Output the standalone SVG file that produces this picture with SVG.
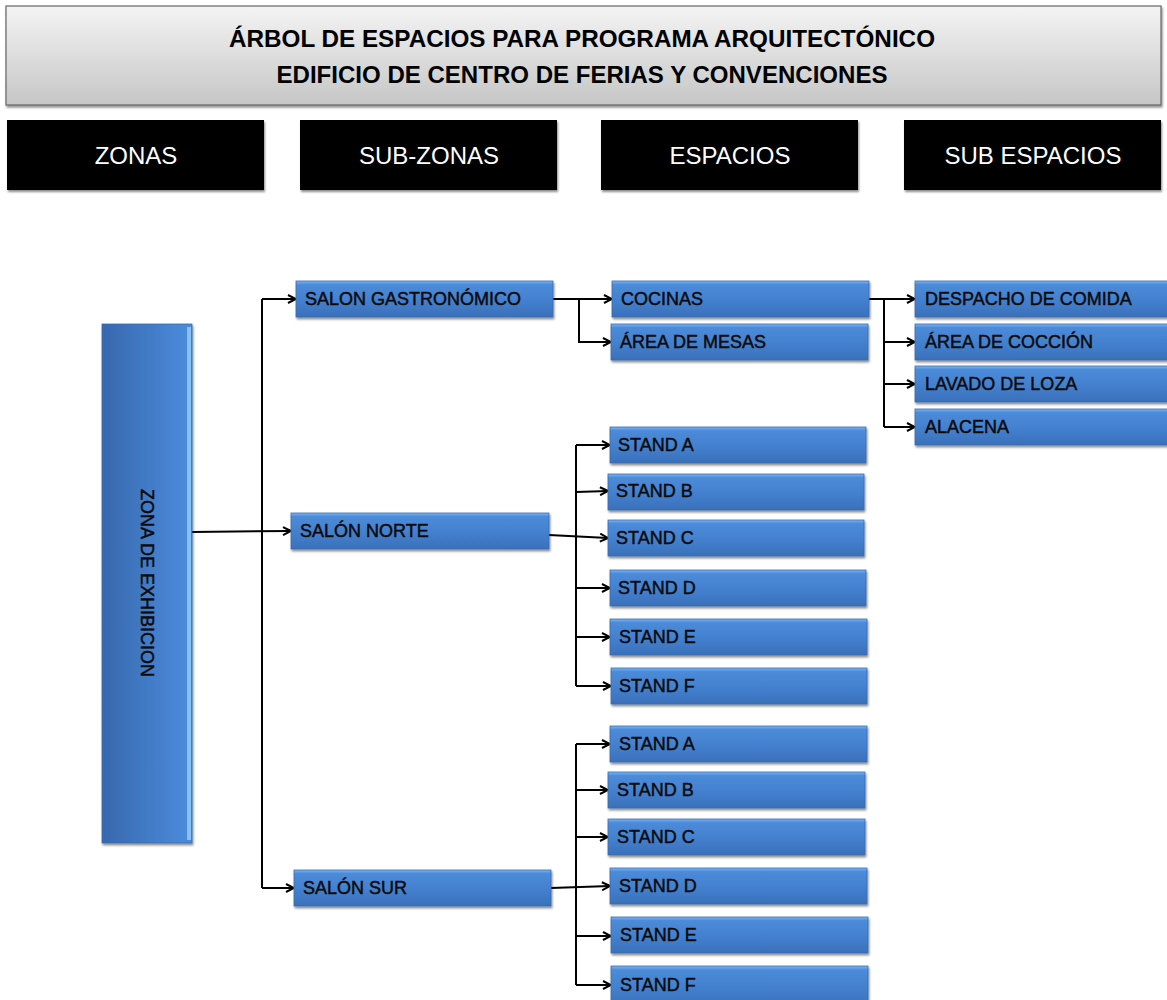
<svg xmlns="http://www.w3.org/2000/svg" width="1167" height="1000" viewBox="0 0 1167 1000">
<style>
.box{fill:url(#gBlue);stroke:#3a6cb0;stroke-width:0.8;filter:url(#sh)}
.hl{fill:#86c0f6}
.lbl{font-family:"Liberation Sans",Arial,sans-serif;font-size:18px;fill:#0a0a0a;stroke:#0a0a0a;stroke-width:0.45;dominant-baseline:central}
.hdr{fill:#000;filter:url(#sh)}
.hdrt{font-family:"Liberation Sans",Arial,sans-serif;font-size:24px;fill:#fff;text-anchor:middle;dominant-baseline:central}
.ttl{font-family:"Liberation Sans",Arial,sans-serif;font-size:23px;font-weight:bold;fill:#000;text-anchor:middle;dominant-baseline:central}
.c{fill:none;stroke:#000;stroke-width:2}
.a{marker-end:url(#arr)}
</style>
<defs>
<linearGradient id="gBlue" x1="0" y1="0" x2="0" y2="1">
<stop offset="0" stop-color="#7ab6f2"/>
<stop offset="0.1" stop-color="#4c8bd9"/>
<stop offset="0.55" stop-color="#4380ce"/>
<stop offset="1" stop-color="#3a70ba"/>
</linearGradient>
<linearGradient id="gZone" x1="0" y1="0" x2="1" y2="0">
<stop offset="0" stop-color="#3768ae"/>
<stop offset="0.9" stop-color="#4a89d8"/>
<stop offset="1" stop-color="#4a89d8"/>
</linearGradient>
<linearGradient id="gTitle" x1="0" y1="0" x2="0" y2="1">
<stop offset="0" stop-color="#f4f4f4"/>
<stop offset="1" stop-color="#c6c6c6"/>
</linearGradient>
<filter id="sh" x="-10%" y="-20%" width="120%" height="150%">
<feDropShadow dx="1" dy="2" stdDeviation="1.2" flood-color="#000" flood-opacity="0.45"/>
</filter>
<marker id="arr" viewBox="0 0 10 10" refX="9" refY="5" markerWidth="10" markerHeight="10" markerUnits="userSpaceOnUse" orient="auto">
<path d="M1,1 L9,5 L1,9" fill="none" stroke="#000" stroke-width="2"/>
</marker>
</defs>
<rect width="1167" height="1000" fill="#fff"/>

<g id="title">
<rect x="6" y="6" width="1155" height="99" fill="url(#gTitle)" stroke="#666" stroke-width="1.2" filter="url(#sh)"/>
<text class="ttl" x="582" y="39" textLength="706" lengthAdjust="spacingAndGlyphs">ÁRBOL DE ESPACIOS PARA PROGRAMA ARQUITECTÓNICO</text>
<text class="ttl" x="582" y="75" textLength="611" lengthAdjust="spacingAndGlyphs">EDIFICIO DE CENTRO DE FERIAS Y CONVENCIONES</text>
</g>

<g id="h-zonas"><rect class="hdr" x="7" y="120" width="257" height="70"/><text class="hdrt" x="136" y="155">ZONAS</text></g>
<g id="h-subzonas"><rect class="hdr" x="300" y="120" width="257" height="70"/><text class="hdrt" x="429" y="155">SUB-ZONAS</text></g>
<g id="h-espacios"><rect class="hdr" x="601" y="120" width="257" height="70"/><text class="hdrt" x="730" y="155">ESPACIOS</text></g>
<g id="h-subespacios"><rect class="hdr" x="904" y="120" width="257" height="70"/><text class="hdrt" x="1033" y="155">SUB ESPACIOS</text></g>

<g id="connectors">
<path class="c a" d="M192,532 L291,531"/>
<path class="c" d="M262,299 L262,888"/>
<path class="c a" d="M262,299 L296,299"/>
<path class="c a" d="M262,888 L294,888"/>
<path class="c a" d="M553,299 L612,299"/>
<path class="c a" d="M579,299 L579,342 L611,342"/>
<path class="c a" d="M869,299 L915,299"/>
<path class="c" d="M884,299 L884,427"/>
<path class="c a" d="M884,342 L915,342"/>
<path class="c a" d="M884,384 L915,384"/>
<path class="c a" d="M884,427 L915,427"/>
<path class="c a" d="M549,535 L608,538"/>
<path class="c" d="M576,445 L576,686"/>
<path class="c a" d="M576,445 L610,445"/>
<path class="c a" d="M576,492 L608,491"/>
<path class="c a" d="M576,588 L610,588"/>
<path class="c a" d="M576,637 L610,637"/>
<path class="c a" d="M576,686 L611,686"/>
<path class="c a" d="M551,888 L610,886"/>
<path class="c" d="M576,744 L576,985"/>
<path class="c a" d="M576,744 L610,744"/>
<path class="c a" d="M576,790 L608,790"/>
<path class="c a" d="M576,837 L608,837"/>
<path class="c a" d="M576,936 L611,936"/>
<path class="c a" d="M576,985 L611,985"/>
</g>

<g id="zona-exhibicion">
<rect x="102" y="324" width="90" height="519" fill="url(#gZone)" stroke="#3a6cb0" stroke-width="0.8" filter="url(#sh)"/>
<rect class="hl" x="187" y="327" width="4" height="513"/>
<text class="lbl" x="147" y="583" text-anchor="middle" transform="rotate(90 147 583)">ZONA DE EXHIBICION</text>
</g>

<g id="salon-gastronomico"><rect class="box" x="296" y="281" width="257" height="36"/><text class="lbl" x="305" y="299">SALON GASTRONÓMICO</text></g>
<g id="salon-norte"><rect class="box" x="291" y="513" width="258" height="36"/><text class="lbl" x="300" y="531">SALÓN NORTE</text></g>
<g id="salon-sur"><rect class="box" x="294" y="870" width="257" height="36"/><text class="lbl" x="303" y="888">SALÓN SUR</text></g>

<g id="cocinas"><rect class="box" x="612" y="281" width="257" height="36"/><text class="lbl" x="621" y="299">COCINAS</text></g>
<g id="area-mesas"><rect class="box" x="611" y="324" width="257" height="36"/><text class="lbl" x="620" y="342">ÁREA DE MESAS</text></g>

<g id="despacho"><rect class="box" x="915" y="281" width="257" height="36"/><text class="lbl" x="925" y="299">DESPACHO DE COMIDA</text></g>
<g id="coccion"><rect class="box" x="915" y="324" width="257" height="36"/><text class="lbl" x="925" y="342">ÁREA DE COCCIÓN</text></g>
<g id="lavado"><rect class="box" x="915" y="366" width="257" height="36"/><text class="lbl" x="925" y="384">LAVADO DE LOZA</text></g>
<g id="alacena"><rect class="box" x="915" y="409" width="257" height="36"/><text class="lbl" x="925" y="427">ALACENA</text></g>

<g id="n-stand-a"><rect class="box" x="610" y="427" width="256" height="36"/><text class="lbl" x="618" y="445">STAND A</text></g>
<g id="n-stand-b"><rect class="box" x="608" y="474" width="256" height="36"/><text class="lbl" x="616" y="491">STAND B</text></g>
<g id="n-stand-c"><rect class="box" x="608" y="520" width="256" height="36"/><text class="lbl" x="616" y="538">STAND C</text></g>
<g id="n-stand-d"><rect class="box" x="610" y="570" width="256" height="36"/><text class="lbl" x="618" y="588">STAND D</text></g>
<g id="n-stand-e"><rect class="box" x="610" y="619" width="257" height="36"/><text class="lbl" x="619" y="637">STAND E</text></g>
<g id="n-stand-f"><rect class="box" x="611" y="668" width="256" height="36"/><text class="lbl" x="619" y="686">STAND F</text></g>

<g id="s-stand-a"><rect class="box" x="610" y="726" width="257" height="36"/><text class="lbl" x="619" y="744">STAND A</text></g>
<g id="s-stand-b"><rect class="box" x="608" y="772" width="257" height="36"/><text class="lbl" x="617" y="790">STAND B</text></g>
<g id="s-stand-c"><rect class="box" x="608" y="819" width="257" height="36"/><text class="lbl" x="617" y="837">STAND C</text></g>
<g id="s-stand-d"><rect class="box" x="610" y="868" width="257" height="36"/><text class="lbl" x="619" y="886">STAND D</text></g>
<g id="s-stand-e"><rect class="box" x="611" y="917" width="257" height="36"/><text class="lbl" x="620" y="935">STAND E</text></g>
<g id="s-stand-f"><rect class="box" x="611" y="966" width="257" height="40"/><text class="lbl" x="620" y="985">STAND F</text></g>
</svg>
